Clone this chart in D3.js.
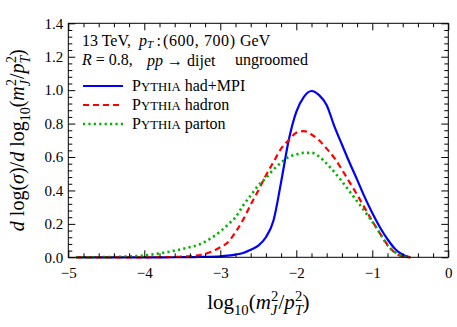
<!DOCTYPE html>
<html><head><meta charset="utf-8">
<script src="https://cdn.jsdelivr.net/npm/d3@7"></script>
<style>
body{margin:0;background:#fff}
svg{display:block}
text{font-family:"Liberation Serif","Times New Roman",serif;fill:#000}
</style>
</head><body><svg id="c" width="457" height="327"></svg>
<script>
// ---- data ----
const xValues = [-4.9,-4.5,-4.25,-4.0,-3.75,-3.5,-3.25,-3.0,-2.9,-2.8,-2.7,-2.6,-2.5,-2.4,-2.3,-2.2,-2.1,-2.0,-1.9,-1.8,-1.7,-1.6,-1.5,-1.4,-1.3,-1.2,-1.1,-1.0,-0.9,-0.8,-0.7,-0.6,-0.5];
const hadMPI = [0,0,0,0,0,0.0005,0.002,0.006,0.01,0.016,0.026,0.045,0.07,0.12,0.22,0.45,0.70,0.87,0.96,0.995,0.97,0.91,0.785,0.675,0.567,0.465,0.36,0.265,0.18,0.108,0.05,0.015,0];
const hadron = [0,0,0,0,0.001,0.004,0.015,0.06,0.09,0.15,0.225,0.315,0.40,0.49,0.57,0.65,0.70,0.745,0.755,0.735,0.70,0.65,0.595,0.525,0.45,0.375,0.295,0.217,0.143,0.075,0.027,0.005,0];
const parton = [0,0.001,0.004,0.011,0.027,0.05,0.082,0.155,0.195,0.24,0.31,0.37,0.43,0.475,0.525,0.567,0.60,0.615,0.625,0.625,0.603,0.56,0.51,0.455,0.395,0.335,0.275,0.213,0.144,0.072,0.03,0.007,0];
const seriesLabels = ["had+MPI","hadron","parton"];
const xTicks = [-5,-4,-3,-2,-1,0];
const yTicks = [0,0.2,0.4,0.6,0.8,1.0,1.2,1.4];

// ---- layout ----
const W = 457, H = 327;
const m = {l:68.3, r:8.7, t:23.3, b:69.7};
const svg = d3.select("#c");
const x = d3.scaleLinear().domain([-5,0]).range([m.l, W-m.r]);
const y = d3.scaleLinear().domain([0,1.4]).range([H-m.b, m.t]);

function rich(sel, parts, size, subShift){
  const sb = subShift == null ? 0.3 : subShift;
  let cur = 0;
  parts.forEach(p=>{
    const ts = sel.append("tspan").text(p.t);
    const target = p.sub ? size*sb : (p.sup ? -size*0.4 : 0);
    if (target-cur !== 0) ts.attr("dy", target-cur);
    cur = target;
    if (p.i) ts.attr("font-style","italic");
    if (p.sub || p.sup) ts.attr("font-size", size*0.7);
    if (p.sc) ts.attr("font-size", size*0.8);
    if (p.dx) ts.attr("dx", p.dx);
  });
}
function label(xp, yp, parts, size, subShift){
  const t = svg.append("text").attr("x",xp).attr("y",yp).attr("font-size",size);
  rich(t, parts, size, subShift);
  return t;
}

// ---- curves ----
const series = [
  {vals: hadMPI, color:"#0000ff", dash:null, w:2.2},
  {vals: hadron, color:"#ff0000", dash:"6,4", w:2.2},
  {vals: parton, color:"#00b400", dash:"2.2,3.2", w:2.6}
];
const line = d3.line().x(d=>x(d[0])).y(d=>y(d[1])).curve(d3.curveMonotoneX);
const gC = svg.append("g");
series.forEach(s=>{
  gC.append("path")
    .attr("d", line(xValues.map((v,i)=>[v, s.vals[i]])))
    .attr("fill","none").attr("stroke", s.color).attr("stroke-width", s.w)
    .attr("stroke-dasharray", s.dash);
});

// ---- axes ----
const fmtX = d3.format("d"), fmtY = d3.format(".1f");
const yMinor = d3.range(0, 1.4001, 0.04).filter(v=>Math.abs(v/0.2-Math.round(v/0.2))>1e-6);
const xMinor = d3.range(-5, 0.001, 0.2).filter(v=>Math.abs(v-Math.round(v))>1e-6);
function styleAxis(g){ g.select(".domain").remove(); g.selectAll("line").attr("stroke","#000").attr("stroke-width",1); g.attr("font-family",null); }

svg.append("g").attr("transform",`translate(${m.l},0)`)
  .call(d3.axisLeft(y).tickValues(yTicks).tickSize(-7).tickPadding(5).tickFormat(fmtY))
  .call(styleAxis).selectAll("text").attr("font-size",15);
svg.append("g").attr("transform",`translate(${m.l},0)`)
  .call(d3.axisLeft(y).tickValues(yMinor).tickSize(-4).tickFormat("")).call(styleAxis);
svg.append("g").attr("transform",`translate(${W-m.r},0)`)
  .call(d3.axisRight(y).tickValues(yTicks).tickSize(-7).tickFormat("")).call(styleAxis);
svg.append("g").attr("transform",`translate(${W-m.r},0)`)
  .call(d3.axisRight(y).tickValues(yMinor).tickSize(-4).tickFormat("")).call(styleAxis);

svg.append("g").attr("transform",`translate(0,${H-m.b})`)
  .call(d3.axisBottom(x).tickValues(xTicks).tickSize(-7).tickPadding(10).tickFormat(fmtX))
  .call(styleAxis).selectAll("text").attr("font-size",15);
svg.append("g").attr("transform",`translate(0,${H-m.b})`)
  .call(d3.axisBottom(x).tickValues(xMinor).tickSize(-4).tickFormat("")).call(styleAxis);
svg.append("g").attr("transform",`translate(0,${m.t})`)
  .call(d3.axisTop(x).tickValues(xTicks).tickSize(-7).tickFormat("")).call(styleAxis);
svg.append("g").attr("transform",`translate(0,${m.t})`)
  .call(d3.axisTop(x).tickValues(xMinor).tickSize(-4).tickFormat("")).call(styleAxis);

svg.append("rect").attr("x",m.l).attr("y",m.t).attr("width",W-m.l-m.r).attr("height",H-m.t-m.b)
  .attr("fill","none").attr("stroke","#000").attr("stroke-width",1);

// ---- axis titles ----
const xsz = 21;
const xt = svg.append("text").attr("x",(m.l+W-m.r)/2).attr("y",309).attr("text-anchor","middle").attr("font-size",xsz);
rich(xt,[{t:"log"},{t:"10",sub:true},{t:"("},{t:"m",i:true},{t:"J",i:true,sub:true},{t:"2",sup:true,dx:-6.3},{t:"/"},{t:"p",i:true},{t:"T",i:true,sub:true},{t:"2",sup:true,dx:-7.8},{t:")"}],xsz);

const ysz = 20;
const yt = svg.append("text").attr("transform",`translate(24,${(m.t+H-m.b)/2}) rotate(-90)`).attr("text-anchor","middle").attr("font-size",ysz);
rich(yt,[{t:"d",i:true},{t:" log("},{t:"σ",i:true},{t:")/"},{t:"d",i:true},{t:" log"},{t:"10",sub:true},{t:"("},{t:"m",i:true},{t:"J",i:true,sub:true},{t:"2",sup:true,dx:-6},{t:"/"},{t:"p",i:true},{t:"T",i:true,sub:true},{t:"2",sup:true,dx:-7.5},{t:")"}],ysz);

// ---- annotations ----
const hs = 16;
label(82, 45.7, [{t:"13 TeV,"}], hs);
label(139, 45.5, [{t:"p",i:true},{t:"T",i:true,sub:true}], hs, 0.18);
label(156.5, 45.7, [{t:":"}], hs);
label(163, 45.7, [{t:"(600, 700)"}], hs).attr("textLength",72).attr("lengthAdjust","spacing");
label(240, 45.7, [{t:"GeV"}], hs);
label(82, 65, [{t:"R",i:true},{t:" = 0.8,"}], hs);
label(147, 65.5, [{t:"pp",i:true},{t:" → dijet"}], hs);
label(235, 65, [{t:"ungroomed"}], hs);

// ---- legend ----
const legY = [86,105,124];
series.forEach((s,i)=>{
  svg.append("line").attr("x1",83).attr("x2",123).attr("y1",legY[i]).attr("y2",legY[i])
    .attr("stroke",s.color).attr("stroke-width",s.w).attr("stroke-dasharray",s.dash);
  label(132, legY[i]+5, [{t:"P"},{t:"YTHIA",sc:true},{t:" "+seriesLabels[i]}], hs);
});
</script>
</body></html>
